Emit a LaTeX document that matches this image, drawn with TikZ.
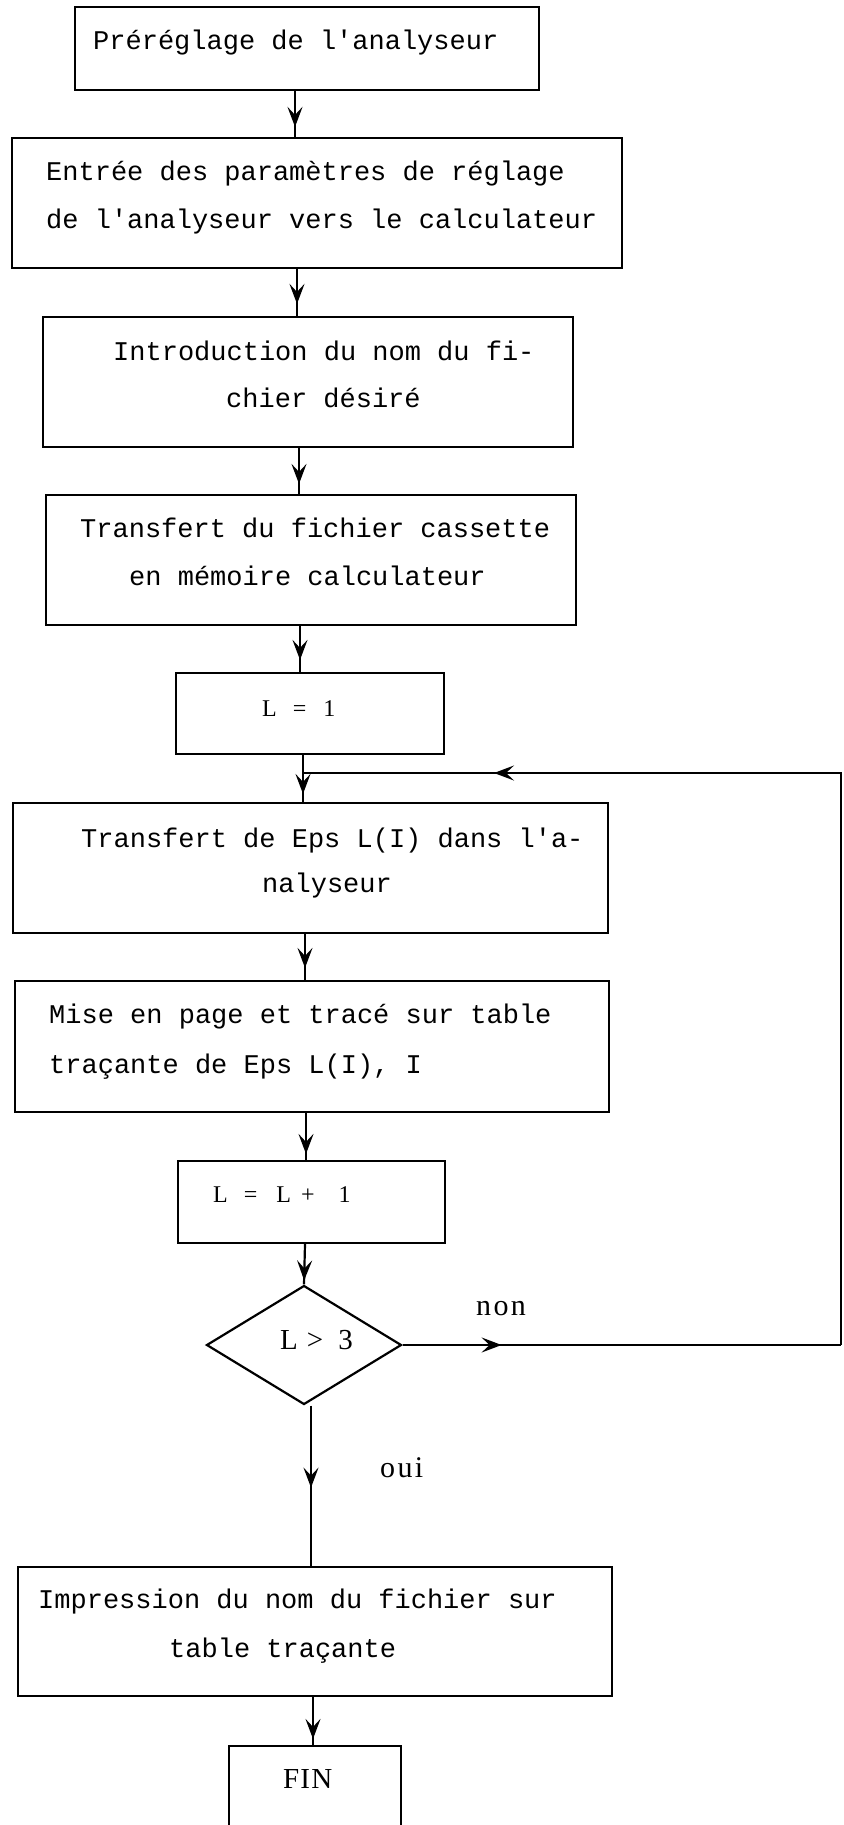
\documentclass[tikz,border=0pt]{standalone}
\usepackage{fontspec}
\newfontfamily\tw{Liberation Mono}
\newfontfamily\sr{Liberation Serif}
\newfontfamily\srC[LetterSpace=8]{Liberation Serif}
\newfontfamily\srD[LetterSpace=4]{Liberation Serif}
\usetikzlibrary{arrows.meta,decorations.markings,fit,shapes.geometric}
\tikzset{
  box/.style={draw, line width=2.2pt, inner sep=0pt},
  tt/.style={font=\tw\fontsize{27}{30}\selectfont, inner sep=0pt, anchor=base west},
  eqA/.style={font=\sr\fontsize{24}{27}\selectfont, inner sep=0pt, anchor=base west},
  eqB/.style={font=\sr\fontsize{29}{32}\selectfont, inner sep=0pt, anchor=base west},
  lab/.style={font=\srC\fontsize{30}{33}\selectfont, inner sep=0pt, anchor=base west},
  fint/.style={font=\srD\fontsize{29}{32}\selectfont, inner sep=0pt, anchor=base west},
  conn/.style={line width=2.2pt},
  tipat/.style={conn, postaction={decorate}, decoration={markings,
     mark=at position #1 with {\arrow{Stealth[length=20pt,width=15pt,inset=8pt]}}}},
}
\begin{document}
\begin{tikzpicture}[x=1pt,y=-1pt]
\useasboundingbox (0,0) rectangle (843,1825);
\clip (0,0) rectangle (843,1825);
% boxes
\node[box, fit={(75,7)(539,90)}] (b1) {};
\node[box, fit={(12,138)(622,268)}] (b2) {};
\node[box, fit={(43,317)(573,447)}] (b3) {};
\node[box, fit={(46,495)(576,625)}] (b4) {};
\node[box, fit={(176,673)(444,754)}] (b5) {};
\node[box, fit={(13,803)(608,933)}] (b6) {};
\node[box, fit={(15,981)(609,1112)}] (b7) {};
\node[box, fit={(178,1161)(445,1243)}] (b8) {};
\node[draw, line width=2.2pt, diamond, inner sep=0pt, minimum width=195pt, minimum height=119pt] (d) at (304,1345) {};
\node[box, fit={(18,1567)(612,1696)}] (b9) {};
\node[box, fit={(229,1746)(401,1840)}] (fin) {};
% texts
\node[tt] (t1) at (93,50) {Préréglage de l'analyseur};
\node[tt] (t2a) at (46,180) {Entrée des paramètres de réglage};
\node[tt] (t2b) at (46,228) {de l'analyseur vers le calculateur};
\node[tt] (t3a) at (113,360) {Introduction du nom du fi-};
\node[tt] (t3b) at (226,407) {chier désiré};
\node[tt] (t4a) at (80,537) {Transfert du fichier cassette};
\node[tt] (t4b) at (129,585) {en mémoire calculateur};
\node[eqA] (t5) at (262,716) {L\hspace{16pt}=\hspace{17pt}1};
\node[tt] (t6a) at (81,847) {Transfert de Eps L(I) dans l'a-};
\node[tt] (t6b) at (262,892) {nalyseur};
\node[tt] (t7a) at (49,1023) {Mise en page et tracé sur table};
\node[tt] (t7b) at (49,1073) {traçante de Eps L(I), I};
\node[eqA] (t8) at (213,1202) {L\hspace{16pt}=\hspace{19pt}L\hspace{10pt}+\hspace{24pt}1};
\node[eqB] (t9) at (280,1349) {L\hspace{9pt}>\hspace{15pt}3};
\node[lab] (non) at (476,1315) {non};
\node[lab] (oui) at (380,1477) {oui};
\node[tt] (t10a) at (38,1608) {Impression du nom du fichier sur};
\node[tt] (t10b) at (169,1657) {table traçante};
\node[fint] (tfin) at (283,1788) {FIN};
% connector x positions
\coordinate (x1) at (295,0);
\coordinate (x2) at (297,0);
\coordinate (x3) at (299,0);
\coordinate (x4) at (300,0);
\coordinate (x5) at (303,0);
\coordinate (x6) at (305,0);
\coordinate (x7) at (306,0);
\coordinate (x9) at (311,0);
\coordinate (x10) at (313,0);
\coordinate (rt) at (841,0);
% connectors
\draw[tipat=-10pt] (b1.south -| x1) -- (b2.north -| x1);
\draw[tipat=-12pt] (b2.south -| x2) -- (b3.north -| x2);
\draw[tipat=-10pt] (b3.south -| x3) -- (b4.north -| x3);
\draw[tipat=-12pt] (b4.south -| x4) -- (b5.north -| x4);
\draw[tipat=-8pt] (b5.south -| x5) -- (b6.north -| x5);
\draw[tipat=-12pt] (b6.south -| x6) -- (b7.north -| x6);
\draw[tipat=-6pt] (b7.south -| x7) -- (b8.north -| x7);
\draw[tipat=-4pt] (b8.south -| x6) -- (d.north);
\draw[tipat=82pt] (d.south -| x9) -- (b9.north -| x9);
\draw[tipat=-6pt] (b9.south -| x10) -- (fin.north -| x10);
\coordinate (lp) at (303,773);
\draw[tipat=99pt] (d.east) -- (d.east -| rt);
\draw[tipat=919pt] (d.east -| rt) -- (rt |- lp) -- (lp);
\end{tikzpicture}
\end{document}
